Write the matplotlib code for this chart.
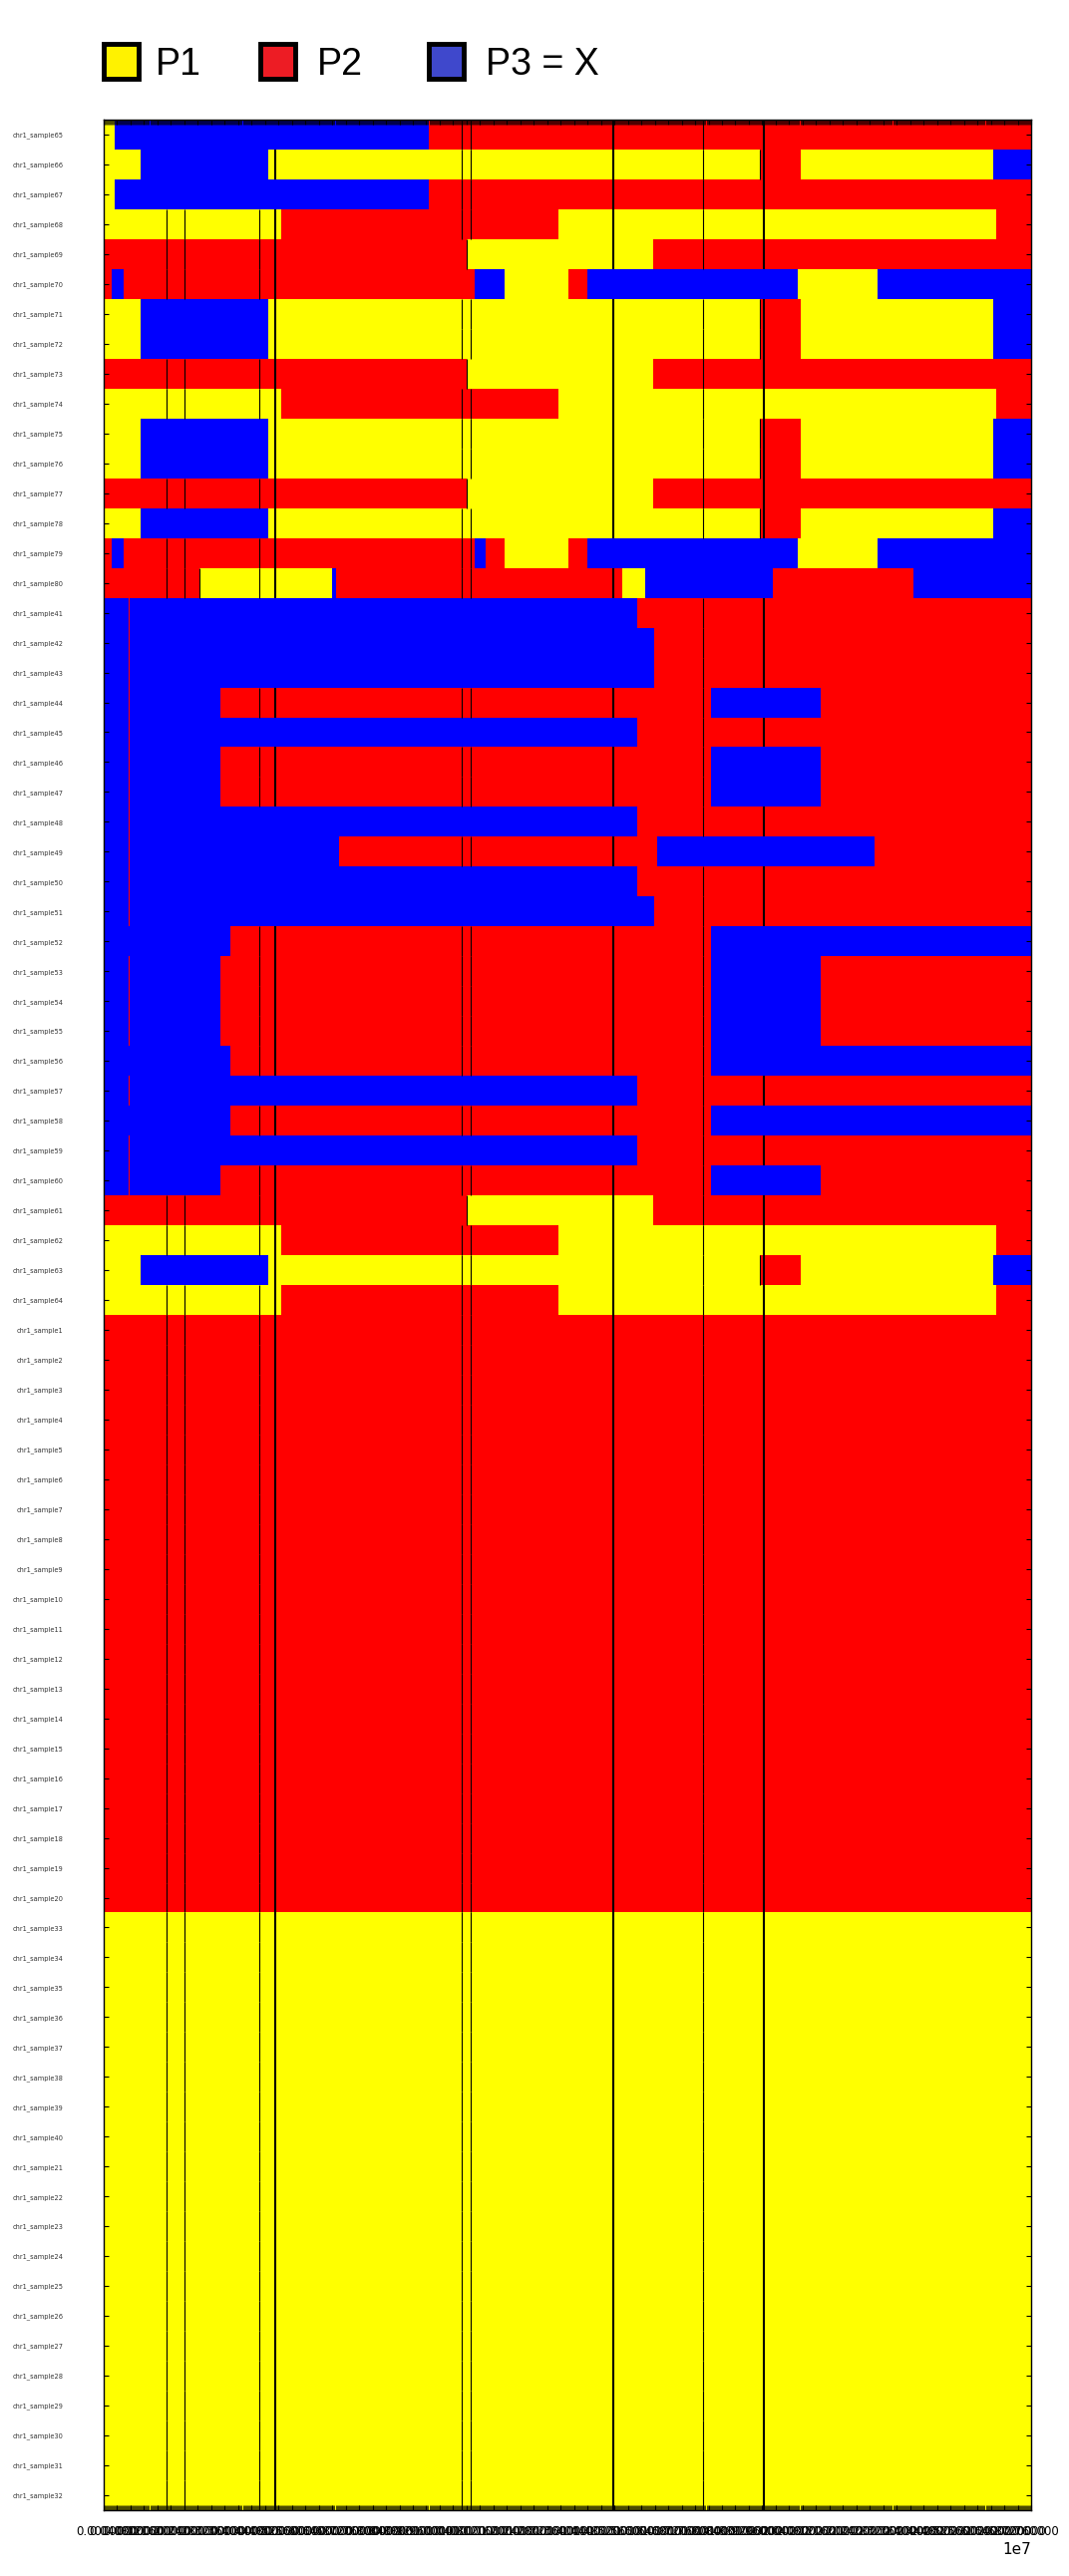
import matplotlib
matplotlib.use('Agg')
import matplotlib.pyplot as plt
from matplotlib.patches import Rectangle
from matplotlib.ticker import MultipleLocator, ScalarFormatter

# chromosome length on the x axis (Mb)
chrom_len = 27.6

# genotype blocks of each haplotype pattern: (block end in Mb, code)
# Y = P1, R = P2, X = P3
hap_blocks = {
    'A': [(0.33, 'Y'), (9.67, 'X'), (27.6, 'R')],
    'B': [(1.10, 'Y'), (4.90, 'X'), (19.53, 'Y'), (20.74, 'R'), (26.47, 'Y'), (27.6, 'X')],
    'C': [(5.28, 'Y'), (13.53, 'R'), (26.56, 'Y'), (27.6, 'R')],
    'D': [(10.80, 'R'), (16.35, 'Y'), (27.6, 'R')],
    'E': [(0.24, 'R'), (0.59, 'X'), (11.04, 'R'), (11.93, 'X'), (13.83, 'Y'), (14.39, 'R'),
          (20.66, 'X'), (23.03, 'Y'), (27.6, 'X')],
    'F': [(0.24, 'R'), (0.59, 'X'), (11.04, 'R'), (11.37, 'X'), (11.93, 'R'), (13.83, 'Y'),
          (14.39, 'R'), (20.66, 'X'), (23.03, 'Y'), (27.6, 'X')],
    'G': [(2.85, 'R'), (6.80, 'Y'), (6.91, 'X'), (15.43, 'R'), (16.11, 'Y'), (19.91, 'X'),
          (24.10, 'R'), (27.6, 'X')],
    'H': [(0.73, 'X'), (0.76, 'R'), (15.88, 'X'), (27.6, 'R')],
    'I': [(0.73, 'X'), (0.76, 'R'), (16.38, 'X'), (27.6, 'R')],
    'J': [(0.73, 'X'), (0.76, 'R'), (3.47, 'X'), (18.07, 'R'), (21.34, 'X'), (27.6, 'R')],
    'K': [(0.73, 'X'), (0.76, 'R'), (7.00, 'X'), (16.47, 'R'), (22.94, 'X'), (27.6, 'R')],
    'L': [(3.77, 'X'), (18.07, 'R'), (27.6, 'X')],
    'P2': [(27.6, 'R')],
    'P1': [(27.6, 'Y')],
}

# black marker lines shown in each pattern (Mb)
all_marks = [1.87, 2.40, 4.63, 5.10, 10.65, 10.92, 15.16, 17.84, 19.65]
hap_marks = {
    'A': [10.65, 10.92, 15.16, 17.84, 19.65],
    'B': [5.10, 10.65, 10.92, 15.16, 17.84, 19.53, 19.65],
    'C': all_marks,
    'D': [1.87, 2.40, 4.63, 5.10, 10.80, 15.16, 17.84, 19.65],
    'E': [1.87, 2.40, 4.63, 5.10],
    'F': [1.87, 2.40, 4.63, 5.10, 10.65, 10.92],
    'G': [1.87, 2.40, 2.85, 4.63, 5.10, 10.65, 10.92, 15.16],
    'H': [17.84, 19.65],
    'I': [17.84, 19.65],
    'J': [4.63, 5.10, 10.65, 10.92, 15.16, 17.84],
    'K': [10.65, 10.92, 15.16],
    'L': [4.63, 5.10, 10.65, 10.92, 15.16, 17.84],
    'P2': all_marks,
    'P1': all_marks,
}

# samples, top to bottom, and their pattern
sample_ids = (list(range(65, 81)) + list(range(41, 61)) + list(range(61, 65))
              + list(range(1, 21)) + list(range(33, 41)) + list(range(21, 33)))
sample_hap = (['A', 'B', 'A', 'C', 'D', 'E', 'B', 'B', 'D', 'C', 'B', 'B', 'D', 'B', 'F', 'G']
              + ['H', 'I', 'I', 'J', 'H', 'J', 'J', 'H', 'K', 'H', 'I', 'L', 'J', 'J', 'J', 'L',
                 'H', 'L', 'H', 'J']
              + ['D', 'C', 'B', 'C']
              + ['P2'] * 20 + ['P1'] * 20)

colors = {'Y': '#ffff00', 'R': '#ff0000', 'X': '#0000ff'}
thick_marks = {5.10, 15.16, 19.65}


class LongFormatter(ScalarFormatter):
    def _set_format(self):
        self.format = '%1.6f'


W, H = 1072, 2584
fig = plt.figure(figsize=(W / 100, H / 100), dpi=100)
ax = fig.add_axes([104 / W, 1 - 2518 / H, 930 / W, 2398 / H])

for row, hap in enumerate(sample_hap):
    start = 0.0
    for end, code in hap_blocks[hap]:
        ax.barh(row, (end - start) * 1e6, left=start * 1e6, height=1.0,
                color=colors[code], linewidth=0)
        start = end
    for m in hap_marks[hap]:
        ax.vlines(m * 1e6, row - 0.5, row + 0.5, color='black',
                  linewidth=1.5 if m in thick_marks else 0.8, zorder=2)

ax.set_xlim(0, chrom_len * 1e6)
ax.set_ylim(len(sample_ids) - 0.5, -0.5)
ax.set_yticks(range(len(sample_ids)))
ax.set_yticklabels([f'chr1_sample{s}' for s in sample_ids])

# ticks at every marker: labels pile up into an unreadable band like the original
ax.xaxis.set_major_locator(MultipleLocator(4e5))
ax.xaxis.set_minor_locator(MultipleLocator(3e4))
ax.xaxis.set_major_formatter(LongFormatter())
ax.xaxis.get_offset_text().set_fontsize(11)

ax.tick_params(axis='x', which='both', direction='in', top=True, bottom=True, length=3.6)
ax.tick_params(axis='x', which='major', width=0.8, labelsize=8.5, pad=11)
ax.tick_params(axis='x', which='minor', width=0.5)
ax.tick_params(axis='y', direction='in', left=True, right=True, length=3.6, width=0.8,
               labelsize=4.8, pad=29, labelcolor='#333333')
for sp in ax.spines.values():
    sp.set_linewidth(1.0)

# legend drawn at the top of the figure
legend_items = [('P1', '#fff200', 104, 156), ('P2', '#ed1c24', 261, 318), ('P3 = X', '#3f48cc', 430, 487)]
for label, fc, bx, tx in legend_items:
    fig.add_artist(Rectangle((bx / W, 1 - 79 / H), 35 / W, 35 / H, transform=fig.transFigure,
                             facecolor=fc, edgecolor='black', linewidth=3.5))
    fig.text(tx / W, 1 - 75 / H, label, fontsize=27, va='baseline', ha='left',
             family=['Liberation Sans', 'DejaVu Sans'])

fig.savefig('out.png', dpi=100)
plt.close(fig)
